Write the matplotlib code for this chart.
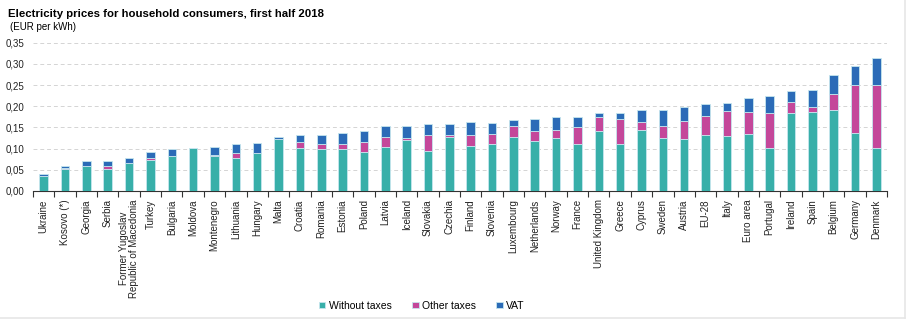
import numpy as np
import matplotlib
matplotlib.use('Agg')
import matplotlib.pyplot as plt

plt.rcParams['font.family'] = ['Liberation Sans', 'DejaVu Sans']

# --------- data (EUR per kWh, first half 2018)
countries = [
    'Ukraine', 'Kosovo (*)', 'Georgia', 'Serbia',
    'Former Yugoslav\nRepublic of Macedonia', 'Turkey', 'Bulgaria', 'Moldova',
    'Montenegro', 'Lithuania', 'Hungary', 'Malta', 'Croatia', 'Romania',
    'Estonia', 'Poland', 'Latvia', 'Iceland', 'Slovakia', 'Czechia',
    'Finland', 'Slovenia', 'Luxembourg', 'Netherlands', 'Norway', 'France',
    'United Kingdom', 'Greece', 'Cyprus', 'Sweden', 'Austria', 'EU-28',
    'Italy', 'Euro area', 'Portugal', 'Ireland', 'Spain', 'Belgium',
    'Germany', 'Denmark',
]
without_taxes = [
    0.035, 0.053, 0.059, 0.053, 0.067, 0.074, 0.082, 0.101,
    0.083, 0.077, 0.089, 0.122, 0.102, 0.100,
    0.100, 0.093, 0.103, 0.121, 0.094, 0.128,
    0.107, 0.111, 0.128, 0.119, 0.126, 0.112,
    0.142, 0.112, 0.144, 0.126, 0.123, 0.131,
    0.129, 0.134, 0.101, 0.185, 0.187, 0.190,
    0.138, 0.101,
]
other_taxes = [
    0.000, 0.001, 0.000, 0.005, 0.000, 0.004, 0.000, 0.000,
    0.002, 0.013, 0.000, 0.000, 0.014, 0.012,
    0.012, 0.022, 0.024, 0.004, 0.037, 0.003,
    0.024, 0.023, 0.026, 0.022, 0.018, 0.038,
    0.033, 0.057, 0.018, 0.027, 0.042, 0.045,
    0.059, 0.052, 0.082, 0.024, 0.011, 0.038,
    0.112, 0.150,
]
vat = [
    0.006, 0.006, 0.011, 0.012, 0.012, 0.013, 0.017, 0.001,
    0.019, 0.021, 0.024, 0.006, 0.016, 0.021,
    0.024, 0.027, 0.027, 0.029, 0.026, 0.027,
    0.031, 0.027, 0.013, 0.030, 0.031, 0.025,
    0.009, 0.016, 0.028, 0.039, 0.033, 0.029,
    0.019, 0.033, 0.042, 0.028, 0.040, 0.045,
    0.045, 0.062,
]
yticks = [0.00, 0.05, 0.10, 0.15, 0.20, 0.25, 0.30, 0.35]

c_without = '#38AFA9'
c_other = '#C4479A'
c_vat = '#2B6BB7'
edge = '#C6E6EE'

x = np.arange(len(countries))
w_ = np.array(without_taxes)
o_ = np.array(other_taxes)
v_ = np.array(vat)

fig = plt.figure(figsize=(9.07, 3.21), dpi=100)
ax = fig.add_axes([0.0364, 0.405, 0.9416, 0.462])

bw = 0.4
ax.bar(x, w_, bw, color=c_without, edgecolor=edge, linewidth=0.6, label='Without taxes', zorder=3)
ax.bar(x, o_, bw, bottom=w_, color=c_other, edgecolor=edge, linewidth=0.6, label='Other taxes', zorder=3)
ax.bar(x, v_, bw, bottom=w_ + o_, color=c_vat, edgecolor=edge, linewidth=0.6, label='VAT', zorder=3)

ax.set_xlim(-0.5, len(countries) - 0.5)
ax.set_ylim(0, 0.35)
ax.set_yticks(yticks)
ax.set_yticklabels([f'{t:.2f}'.replace('.', ',') for t in yticks], fontsize=7, color='#222222')
ax.yaxis.grid(True, linestyle=(0, (4, 3)), color='#d4d4d4', linewidth=0.7, zorder=0)
ax.tick_params(axis='y', length=0, pad=6)

# category labels centred, ticks between categories
ax.set_xticks(x)
ax.set_xticklabels(countries, rotation=90, fontsize=7, color='#222222', va='top', ha='center', linespacing=1.0)
ax.tick_params(axis='x', which='major', length=0, pad=6)
ax.set_xticks(np.arange(-0.5, len(countries), 1.0), minor=True)
ax.tick_params(axis='x', which='minor', length=4, direction='out', color='#333333', width=0.8)

for s in ['top', 'right', 'left']:
    ax.spines[s].set_visible(False)
ax.spines['bottom'].set_color('#333333')
ax.spines['bottom'].set_linewidth(0.8)

fig.text(0.009, 0.955, 'Electricity prices for household consumers, first half 2018',
         fontsize=8.2, fontweight='bold', ha='left', va='center')
fig.text(0.011, 0.915, '(EUR per kWh)', fontsize=7, ha='left', va='center')

fig.legend(loc='center', bbox_to_anchor=(0.465, 0.048), ncol=3, frameon=False,
           fontsize=7.5, handlelength=0.6, handleheight=0.6, handletextpad=0.3,
           columnspacing=2.0)

# light frame lines at right and bottom
fig.add_artist(plt.Line2D([0, 0.998], [0.01, 0.01], color='#e6e6e6', linewidth=1.2, transform=fig.transFigure))
fig.add_artist(plt.Line2D([0.998, 0.998], [0.01, 1], color='#e6e6e6', linewidth=1.2, transform=fig.transFigure))

fig.savefig('out.png', dpi=100)
